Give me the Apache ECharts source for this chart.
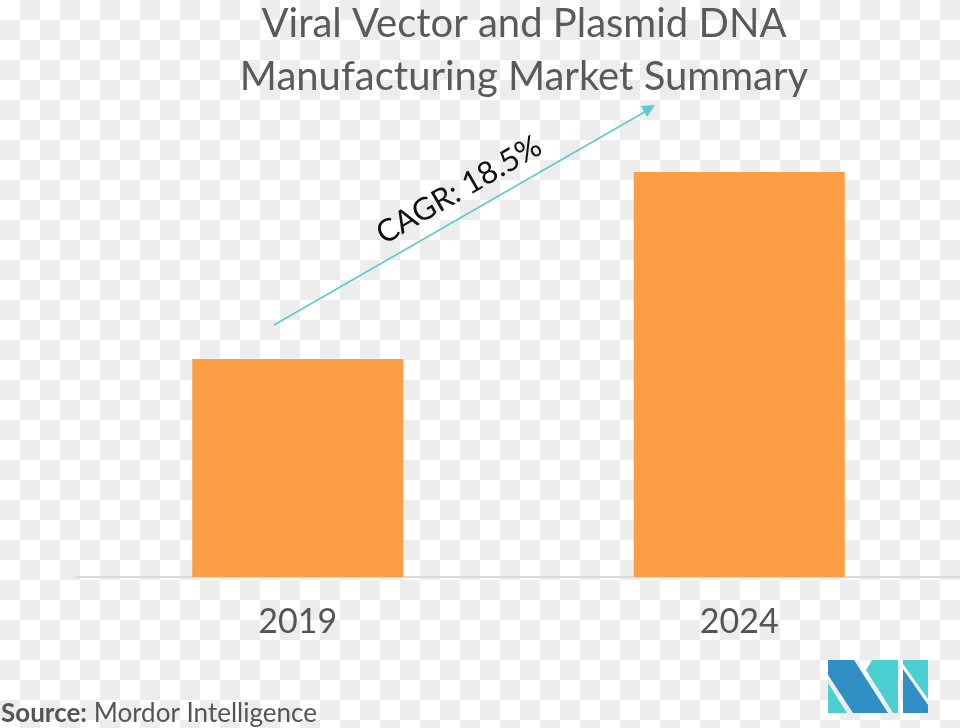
<!DOCTYPE html>
<html>
<head>
<meta charset="utf-8">
<script src="https://cdn.jsdelivr.net/npm/echarts@6/dist/echarts.min.js"></script>
<style>
html,body{margin:0;padding:0;}
body{width:960px;height:728px;background-color:#fff;background-image:repeating-conic-gradient(#ededed 0 25%, #ffffff 0 50%);background-size:40px 40px;}
#chart{width:960px;height:728px;}
</style>
</head>
<body>
<div id="chart"></div>
<script>
const titleLines = ['Viral Vector and Plasmid DNA', 'Manufacturing Market Summary'];
const categories = ['2019', '2024'];
const values = [218, 405];
const cagrLabel = 'CAGR: 18.5%';
const sourceBold = 'Source:';
const sourceText = ' Mordor Intelligence';

const chart = echarts.init(document.getElementById('chart'), null, {renderer: 'canvas'});
const FONT = 'Lato, "Noto Sans", sans-serif';
const dark = '#2f8fc4', teal = '#4ccfd1';
chart.setOption({
  animation: false,
  title: {
    text: titleLines.join('\n'),
    left: 519, top: -7, textAlign: 'center',
    textStyle: {fontFamily: FONT, fontSize: 40, fontWeight: 'normal', color: '#5a5a5a', lineHeight: 53}
  },
  grid: {left: 77, right: 0, top: 100, bottom: 151},
  xAxis: {
    type: 'category', data: categories,
    axisLine: {lineStyle: {color: '#dadada', width: 2}},
    axisTick: {show: false},
    axisLabel: {fontFamily: FONT, fontSize: 34, color: '#555', margin: 28}
  },
  yAxis: {type: 'value', min: 0, max: 477, show: false, splitLine: {show: false}},
  series: [{
    type: 'bar', data: values, barWidth: '47.8%',
    itemStyle: {color: '#fd9e46'}
  }],
  graphic: [
    {type: 'line', shape: {x1: 274, y1: 325, x2: 648, y2: 110}, style: {stroke: '#5ccbd0', lineWidth: 1.5}},
    {type: 'polygon', shape: {points: [[655, 105], [641, 106], [647, 117]]}, style: {fill: '#5ccbd0'}},
    {type: 'text', x: 459, y: 190, rotation: 30 * Math.PI / 180,
     style: {text: cagrLabel, font: '31px ' + FONT, fill: '#111', textAlign: 'center', textVerticalAlign: 'middle'}},
    {type: 'text', left: 1, top: 701, style: {
      rich: {b: {fontFamily: FONT, fontWeight: 'bold', fontSize: 26, fill: '#555'}, n: {fontFamily: FONT, fontSize: 26, fill: '#555'}},
      text: '{b|' + sourceBold + '}{n|' + sourceText + '}'
    }},
    {type: 'polygon', shape: {points: [[828, 660], [854, 660], [888, 713], [853, 713], [828, 675]]}, style: {fill: dark}},
    {type: 'polygon', shape: {points: [[828, 683], [828, 713], [847, 713]]}, style: {fill: teal}},
    {type: 'polygon', shape: {points: [[872, 660], [898, 660], [898, 713], [893, 713], [866, 670]]}, style: {fill: teal}},
    {type: 'polygon', shape: {points: [[903, 660], [928, 660], [928, 699], [903, 664]]}, style: {fill: teal}},
    {type: 'polygon', shape: {points: [[903, 669], [928, 705], [928, 713], [903, 713]]}, style: {fill: dark}}
  ]
});
</script>
</body>
</html>
